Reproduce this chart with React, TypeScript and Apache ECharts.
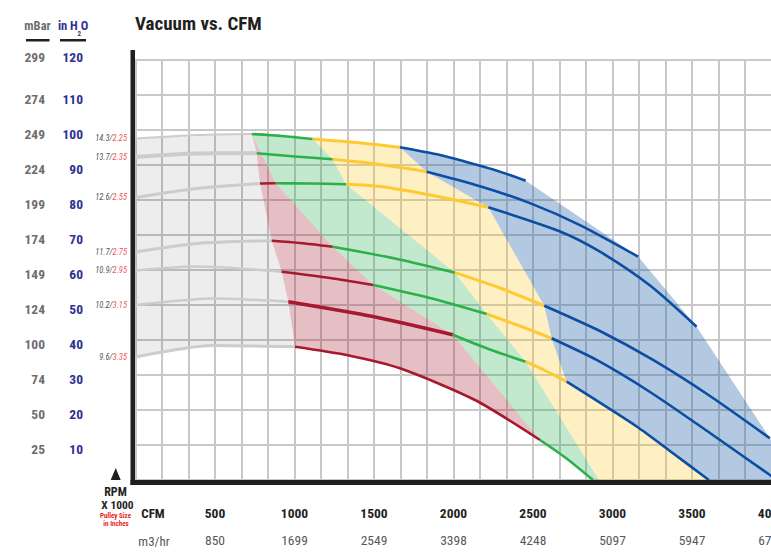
import React, { useEffect, useRef } from "react";
import * as echarts from "echarts";

const FONT = "'Roboto Condensed','Open Sans Condensed','Liberation Sans Narrow',sans-serif";

// ---- axis tick data ----
const cfmTicks = [500, 1000, 1500, 2000, 2500, 3000, 3500, 4000];
const m3hrTicks = [850, 1699, 2549, 3398, 4248, 5097, 5947, 6796];
const inH2OTicks = [10, 20, 30, 40, 50, 60, 70, 80, 90, 100, 110, 120];
const mBarTicks = [25, 50, 74, 100, 124, 149, 174, 199, 224, 249, 274, 299];

// ---- fan curves: RPM x1000 / pulley size (inches) ----
const rpmLabels = ["14.3", "13.7", "12.6", "11.7", "10.9", "10.2", "9.6"];
const pulleyLabels = ["2.25", "2.35", "2.55", "2.75", "2.95", "3.15", "3.35"];

// points: [CFM, inches H2O]
const curveA = [[0, 97.46], [387, 98.46], [731, 98.75], [921, 98.17], [1114, 97.32], [1387, 96.32], [1663, 94.95], [1915, 92.75], [2070, 90.9], [2250, 88.6], [2454, 85.42]];
const curveB = [[0, 92.18], [387, 93.18], [762, 93.24], [1003, 92.32], [1240, 91.52], [1538, 90.04], [1831, 87.99], [2167, 83.85], [2481, 79.02], [2795, 72.75], [3162, 63.73]];
const curveC = [[0, 80.62], [387, 83.19], [783, 84.62], [882, 84.68], [1097, 84.62], [1324, 84.39], [1538, 83.76], [1852, 81.33], [2219, 77.83], [2670, 70.92], [2921, 65.15], [3236, 55.51], [3529, 43.75]];
const curveD = [[0, 65.07], [387, 67.5], [857, 68.29], [1035, 67.64], [1240, 66.58], [1632, 63.22], [2009, 59.16], [2292, 54.79], [2571, 49.74], [2921, 42.52], [3255, 34.25], [3613, 23.97], [3990, 11.9]];
const curveE = [[0, 59.79], [387, 60.93], [919, 59.45], [1223, 57.65], [1496, 55.65], [1852, 51.94], [2209, 47.37], [2418, 43.95], [2617, 40.44], [2900, 34.25], [3236, 25.11], [3613, 13.41], [3990, 1.43], [4034, 0]];
const curveF = [[0, 49.94], [487, 51.8], [961, 50.89], [1494, 46.66], [1995, 41.47], [2229, 37.24], [2454, 33.76], [2582, 31.11], [2712, 28.05], [3152, 15.27], [3374, 7.85], [3606, 0]];
const curveG = [[0, 35.1], [487, 38.39], [1003, 38.04], [1328, 35.67], [1663, 31.88], [2135, 22.83], [2544, 11.42], [2707, 6.28], [2877, 0]];

// colour segments per curve: [zone, fromIndex, toIndex]
const segA = [["gray", 0, 2], ["green", 2, 4], ["yellow", 4, 6], ["blue", 6, 10]];
const segB = [["gray", 0, 2], ["green", 2, 4], ["yellow", 4, 6], ["blue", 6, 10]];
const segC = [["gray", 0, 2], ["red", 2, 3], ["green", 3, 5], ["yellow", 5, 8], ["blue", 8, 12]];
const segD = [["gray", 0, 2], ["red", 2, 4], ["green", 4, 6], ["yellow", 6, 8], ["blue", 8, 12]];
const segE = [["gray", 0, 2], ["red", 2, 4], ["green", 4, 6], ["yellow", 6, 8], ["blue", 8, 13]];
const segF = [["gray", 0, 2], ["red", 2, 4], ["green", 4, 6], ["yellow", 6, 8], ["blue", 8, 11]];
const segG = [["gray", 0, 2], ["red", 2, 6], ["green", 6, 8]];

// zone feet on the CFM axis
const greenFoot = [2915, 0];
const blueFoot = [4163, 0];

const curves = [curveA, curveB, curveC, curveD, curveE, curveF, curveG];
const segs = [segA, segB, segC, segD, segE, segF, segG];
const grayWidths = [2, 4, 3, 3, 2.5, 2.5, 3];

const lineColors: Record<string, string> = {
  gray: "#cccccc",
  red: "#a6192e",
  green: "#2bb04a",
  yellow: "#ffc933",
  blue: "#0b4ea2",
};
const zoneFills: Record<string, string> = {
  gray: "rgba(0,0,0,0.07)",
  red: "rgba(166,25,46,0.28)",
  green: "rgba(30,170,70,0.27)",
  yellow: "rgba(255,200,40,0.28)",
  blue: "rgba(38,98,169,0.35)",
};

function buildZones() {
  const [A, B, C, D, E, F, G] = curves;
  const gray = [...A.slice(0, 3), B[2], C[2], D[2], E[2], F[2], ...G.slice(0, 3).reverse()];
  const red = [A[2], B[2], C[2], D[2], E[2], F[2], ...G.slice(2, 7), F[4], E[4], D[4], C[3]];
  const green = [A[2], A[3], A[4], B[4], C[5], D[6], E[6], F[6], greenFoot, ...G.slice(6, 9).reverse(), F[4], E[4], D[4], C[3]];
  const yellow = [A[4], A[5], A[6], B[6], C[8], D[8], E[8], ...F.slice(8, 12), greenFoot, F[6], E[6], D[6], C[5], B[4]];
  const blue = [...A.slice(6, 11), B[10], C[12], D[12], blueFoot, ...F.slice(8, 12).reverse(), E[8], D[8], C[8], B[6]];
  return [
    ["gray", gray],
    ["red", red],
    ["green", green],
    ["yellow", yellow],
    ["blue", blue],
  ] as [string, number[][]][];
}

export default function App() {
  const ref = useRef<HTMLDivElement>(null);
  useEffect(() => {
    if (!ref.current) return;
    const chart = echarts.init(ref.current, undefined, { renderer: "svg" });

    const zoneSeries = buildZones().map(([name, pts]) => ({
      type: "custom",
      name: "zone-" + name,
      data: pts,
      encode: { x: 0, y: 1 },
      silent: true,
      z: 1,
      clip: true,
      renderItem: (params: any, api: any) =>
        params.dataIndex === 0
          ? {
              type: "polygon",
              shape: { points: pts.map((p) => api.coord(p)) },
              style: { fill: zoneFills[name], stroke: "none" },
            }
          : null,
    }));

    const lineSeries: any[] = [];
    curves.forEach((c, ci) => {
      segs[ci].forEach(([zone, a, b]) => {
        const z = zone as string;
        let w = z === "gray" ? grayWidths[ci] : 2.6;
        if (z === "red" && ci === 5) w = 3.6;
        if (z === "yellow") w = 3;
        lineSeries.push({
          type: "line",
          data: c.slice(a as number, (b as number) + 1),
          showSymbol: false,
          symbol: "none",
          smooth: 0.25,
          silent: true,
          clip: true,
          z: z === "gray" ? 2 : 3,
          lineStyle: { color: lineColors[z], width: w, cap: "butt" },
        });
      });
    });

    const labelSeries = {
      type: "scatter",
      data: curves.map((c) => c[0]),
      symbolSize: 1,
      itemStyle: { color: "rgba(0,0,0,0)" },
      silent: true,
      z: 6,
      label: {
        show: true,
        position: "left",
        distance: 8,
        formatter: (p: any) => `{k|${rpmLabels[p.dataIndex]}/}{r|${pulleyLabels[p.dataIndex]}}`,
        rich: {
          k: { color: "#231f20", fontSize: 8.5, fontStyle: "italic", fontFamily: FONT },
          r: { color: "#ed1c24", fontSize: 8.5, fontStyle: "italic", fontFamily: FONT },
        },
      },
    };

    const gridLine = { show: true, lineStyle: { color: "#c8c8c8", width: 2 } };

    const txt = (text: string, x: number, y: number, o: any = {}) => ({
      type: "text",
      x,
      y,
      z: 100,
      style: {
        text,
        fill: o.fill || "#231f20",
        fontSize: o.fontSize || 13,
        fontWeight: o.fontWeight || "bold",
        fontFamily: FONT,
        align: o.align || "center",
        textAlign: o.align || "center",
        verticalAlign: "middle",
        textVerticalAlign: "middle",
      },
    });

    chart.setOption({
      animation: false,
      grid: { left: 135.5, top: 59.5, width: 662.5, height: 420.5, containLabel: false },
      xAxis: {
        type: "value",
        min: 0,
        max: 12500 / 3,
        interval: 500 / 3,
        axisLine: { show: false },
        axisTick: { show: false },
        splitLine: gridLine,
        axisLabel: {
          margin: 19,
          formatter: (v: number) => {
            const i = cfmTicks.findIndex((t) => Math.abs(t - v) < 0.5);
            return i < 0 ? "" : `{c|${cfmTicks[i]}}\n{m|${m3hrTicks[i]}}`;
          },
          rich: {
            c: { fontSize: 13.5, fontWeight: "bold", color: "#231f20", fontFamily: FONT, lineHeight: 27.5 },
            m: { fontSize: 13.5, color: "#58595b", fontFamily: FONT, lineHeight: 27.5 },
          },
        },
      },
      yAxis: {
        type: "value",
        min: 0,
        max: 120,
        interval: 10,
        axisLine: { show: false },
        axisTick: { show: false },
        splitLine: gridLine,
        axisLabel: {
          margin: 52.5,
          padding: [9, 0, 0, 0],
          lineHeight: 14,
          fontSize: 13.5,
          fontFamily: FONT,
          formatter: (v: number) => {
            const i = inH2OTicks.indexOf(Math.round(v));
            if (i < 0) return "";
            const s = `{m|${mBarTicks[i]}}{h|${inH2OTicks[i]}}`;
            return inH2OTicks[i] === 120 ? s + "\n " : s;
          },
          rich: {
            m: { color: "#6d6e71", width: 38, align: "right", fontSize: 13.5, fontWeight: "bold", fontFamily: FONT },
            h: { color: "#2e3192", width: 38, align: "right", fontSize: 13.5, fontWeight: "bold", fontFamily: FONT },
          },
        },
      },
      series: [...zoneSeries, ...lineSeries, labelSeries],
      graphic: [
        txt("Vacuum vs. CFM", 135, 23, { fontSize: 19, align: "left" }),
        txt("mBar", 37.5, 25, { fill: "#6d6e71", fontSize: 12.5 }),
        { type: "rect", z: 100, shape: { x: 26, y: 39, width: 23.5, height: 2.5 }, style: { fill: "#231f20" } },
        txt("in H", 77.8, 25, { fill: "#2e3192", align: "right", fontSize: 12.5 }),
        txt("2", 79.3, 33.5, { fill: "#2e3192", fontSize: 7 }),
        txt("O", 80.8, 25, { fill: "#2e3192", align: "left", fontSize: 12.5 }),
        { type: "rect", z: 100, shape: { x: 60, y: 39, width: 26, height: 2.5 }, style: { fill: "#231f20" } },
        { type: "rect", z: 100, shape: { x: 130.5, y: 50, width: 4.5, height: 435 }, style: { fill: "#231f20" } },
        { type: "rect", z: 100, shape: { x: 130.5, y: 480, width: 700, height: 5 }, style: { fill: "#231f20" } },
        { type: "polygon", z: 100, shape: { points: [[110.7, 480], [115.7, 468], [120.7, 480]] }, style: { fill: "#231f20" } },
        txt("RPM", 115.5, 492, { fontSize: 12 }),
        txt("X 1000", 117.5, 505, { fontSize: 11.5 }),
        txt("Pulley Size", 115.5, 516, { fontSize: 7, fill: "#ed1c24" }),
        txt("in Inches", 116, 524, { fontSize: 7, fill: "#ed1c24" }),
        txt("CFM", 153, 513.5, { fontSize: 13 }),
        txt("m3/hr", 154, 541, { fontSize: 13, fill: "#58595b", fontWeight: "normal" }),
      ],
    });
    return () => chart.dispose();
  }, []);

  return (
    <div style={{ position: "absolute", left: 0, top: 0, width: 771, height: 560, overflow: "hidden", background: "#fff" }}>
      <div ref={ref} style={{ width: 820, height: 560 }} />
    </div>
  );
}
